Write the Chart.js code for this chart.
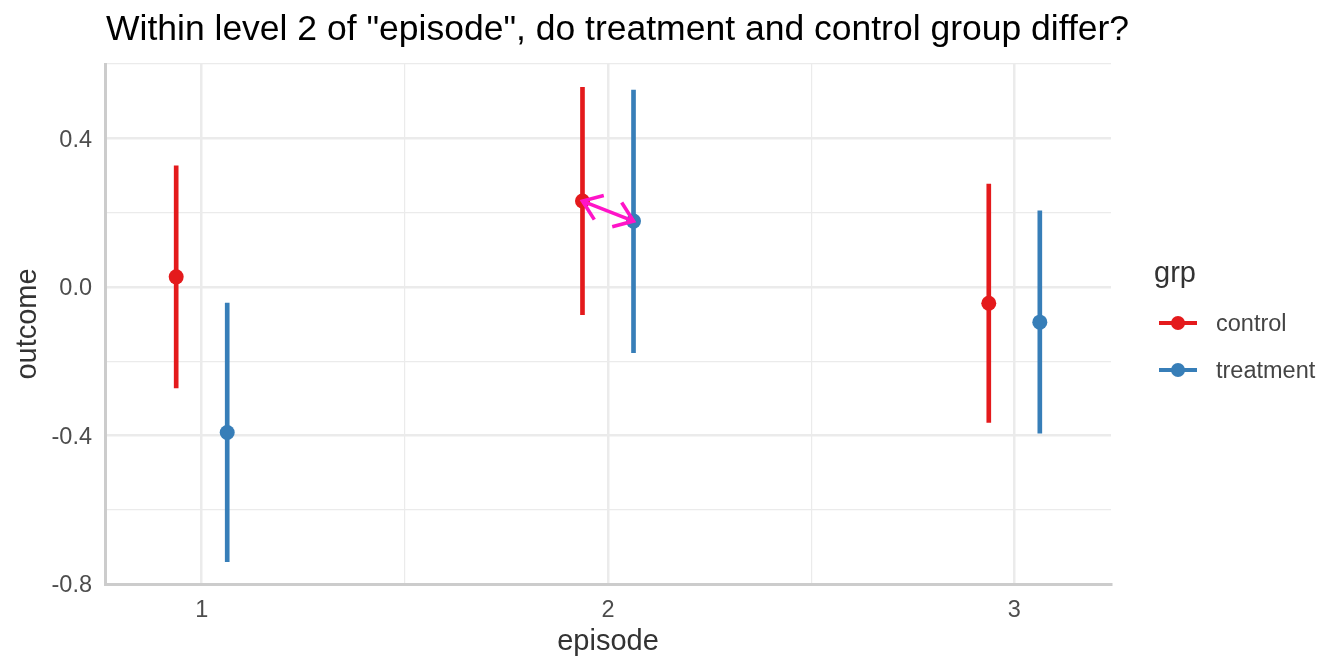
<!DOCTYPE html>
<html>
<head>
<meta charset="utf-8">
<script src="https://cdn.jsdelivr.net/npm/chart.js@4.4.1/dist/chart.umd.min.js"></script>
<style>
  html, body { margin: 0; padding: 0; background: #ffffff; }
  #wrap { position: relative; width: 1344px; height: 672px; overflow: hidden; font-family: "Liberation Sans", Arial, sans-serif; }
  #c { position: absolute; left: 0; top: 0; }
  .txt { position: absolute; white-space: nowrap; }
  #title { left: 106px; top: 11px; font-size: 35.5px; line-height: 35.5px; color: #000000; }
  #legTitle { left: 1154px; top: 258px; font-size: 29px; line-height: 29px; color: #333333; }
  .legLab { font-size: 23.5px; line-height: 23.5px; color: #444444; left: 1216px; }
  .key { position: absolute; width: 38px; height: 4px; left: 1159px; }
  .dot { position: absolute; width: 14px; height: 14px; border-radius: 50%; left: 1171px; }
</style>
</head>
<body>
<div id="wrap">
  <canvas id="c" width="1344" height="672"></canvas>
  <div id="title" class="txt"></div>
  <div id="legend"></div>
</div>
<script>
// ---- data ----
const chartTitle = 'Within level 2 of "episode", do treatment and control group differ?';
const xTitle = 'episode';
const yTitle = 'outcome';
const legendTitle = 'grp';
const episodes = [1, 2, 3];
const xTickLabels = ['1', '2', '3'];
const yTickValues = [-0.8, -0.4, 0.0, 0.4];
const groups = ['control', 'treatment'];
const controlEstimate = [0.027, 0.231, -0.044];
const controlLower = [-0.272, -0.075, -0.365];
const controlUpper = [0.326, 0.537, 0.277];
const treatmentEstimate = [-0.392, 0.177, -0.095];
const treatmentLower = [-0.740, -0.177, -0.394];
const treatmentUpper = [-0.044, 0.530, 0.205];
const arrowEpisode = 2; // comparison highlighted: control -> treatment within episode 2

// ---- styles ----
const colors = { control: '#E41A1C', treatment: '#377EB8' };
const arrowColor = '#FF14C8';
const DODGE = 0.0628;
const FONT = '"Liberation Sans", Arial, sans-serif';

document.getElementById('title').textContent = chartTitle;

// legend (HTML)
(function buildLegend() {
  const lg = document.getElementById('legend');
  const t = document.createElement('div');
  t.id = 'legTitle'; t.className = 'txt'; t.textContent = legendTitle;
  lg.appendChild(t);
  const keyY = [323, 369.5];
  groups.forEach((g, i) => {
    const line = document.createElement('div');
    line.className = 'key';
    line.style.top = (keyY[i] - 2) + 'px';
    line.style.background = colors[g];
    lg.appendChild(line);
    const dot = document.createElement('div');
    dot.className = 'dot';
    dot.style.top = (keyY[i] - 7) + 'px';
    dot.style.background = colors[g];
    lg.appendChild(dot);
    const lab = document.createElement('div');
    lab.className = 'txt legLab';
    lab.style.top = (keyY[i] + 9 - 19.9) + 'px';
    lab.textContent = g;
    lg.appendChild(lab);
  });
})();

const est = { control: controlEstimate, treatment: treatmentEstimate };
const lo = { control: controlLower, treatment: treatmentLower };
const hi = { control: controlUpper, treatment: treatmentUpper };
const offs = { control: -DODGE, treatment: DODGE };

const datasets = [];
groups.forEach(g => {
  datasets.push({
    type: 'scatter',
    label: g,
    order: 0,
    data: episodes.map((e, i) => ({ x: e + offs[g], y: est[g][i] })),
    backgroundColor: colors[g],
    borderColor: colors[g],
    pointRadius: 7.5,
    pointBorderWidth: 0,
    pointHoverRadius: 7.5
  });
});
groups.forEach(g => {
  datasets.push({
    type: 'bar',
    label: g + ' interval',
    order: 1,
    data: episodes.map((e, i) => ({ x: e + offs[g], y: [lo[g][i], hi[g][i]] })),
    backgroundColor: colors[g],
    borderWidth: 0,
    barThickness: 4,
    grouped: false
  });
});

const isMajorY = v => Math.abs(v / 0.4 - Math.round(v / 0.4)) < 1e-6;
const isMajorX = v => Math.abs(v - Math.round(v)) < 1e-6;

const arrowPlugin = {
  id: 'arrowPlugin',
  afterDatasetsDraw(chart) {
    const i = episodes.indexOf(arrowEpisode);
    const xs = chart.scales.x, ys = chart.scales.y;
    const x1 = xs.getPixelForValue(arrowEpisode + offs.control), y1 = ys.getPixelForValue(controlEstimate[i]);
    const x2 = xs.getPixelForValue(arrowEpisode + offs.treatment), y2 = ys.getPixelForValue(treatmentEstimate[i]);
    const ctx = chart.ctx;
    ctx.save();
    ctx.strokeStyle = arrowColor;
    ctx.lineWidth = 3.6;
    ctx.lineCap = 'butt';
    ctx.lineJoin = 'miter';
    ctx.beginPath();
    ctx.moveTo(x1, y1); ctx.lineTo(x2, y2);
    const head = (tx, ty, fx, fy) => {
      const a = Math.atan2(fy - ty, fx - tx);
      const L = 22, w = 36 * Math.PI / 180;
      ctx.moveTo(tx + L * Math.cos(a - w), ty + L * Math.sin(a - w));
      ctx.lineTo(tx, ty);
      ctx.lineTo(tx + L * Math.cos(a + w), ty + L * Math.sin(a + w));
    };
    head(x1, y1, x2, y2);
    head(x2, y2, x1, y1);
    ctx.stroke();
    ctx.restore();
  }
};

new Chart(document.getElementById('c'), {
  type: 'bar',
  data: { datasets },
  options: {
    responsive: false,
    devicePixelRatio: 1,
    animation: false,
    events: [],
    layout: { padding: { top: 64, right: 233, left: 0, bottom: 0 } },
    plugins: { legend: { display: false }, tooltip: { enabled: false }, title: { display: false } },
    scales: {
      x: {
        type: 'linear',
        min: 0.762, max: 3.238,
        offset: false,
        afterBuildTicks: s => { s.ticks = [1, 1.5, 2, 2.5, 3].map(v => ({ value: v })); },
        afterFit: s => { s.height = 88; },
        ticks: {
          autoSkip: false,
          maxRotation: 0,
          padding: 12,
          color: '#4D4D4D',
          font: { family: FONT, size: 23.5 },
          callback: v => { const k = episodes.indexOf(v); return k >= 0 ? xTickLabels[k] : ''; }
        },
        grid: {
          offset: false,
          drawTicks: false,
          color: '#EBEBEB',
          lineWidth: c => (c.tick && isMajorX(c.tick.value)) ? 2.5 : 1.2
        },
        border: { display: true, color: '#CCCCCC', width: 3 },
        title: { display: true, text: xTitle, color: '#333333', font: { family: FONT, size: 29, lineHeight: 1 }, padding: { top: 0, bottom: 16 } }
      },
      y: {
        type: 'linear',
        min: -0.8, max: 0.6,
        afterBuildTicks: s => { s.ticks = [-0.8, -0.6, -0.4, -0.2, 0, 0.2, 0.4, 0.6].map(v => ({ value: v })); },
        afterFit: s => { s.width = 105; },
        ticks: {
          autoSkip: false,
          padding: 13,
          labelOffset: 2,
          color: '#4D4D4D',
          font: { family: FONT, size: 23.5 },
          callback: v => yTickValues.some(t => Math.abs(t - v) < 1e-6) ? v.toFixed(1) : ''
        },
        grid: {
          offset: false,
          drawTicks: false,
          color: '#EBEBEB',
          lineWidth: c => (c.tick && isMajorY(c.tick.value)) ? 2.5 : 1.2
        },
        border: { display: true, color: '#CCCCCC', width: 3 },
        title: { display: true, text: yTitle, color: '#333333', font: { family: FONT, size: 29, lineHeight: 1 }, padding: { top: 13, bottom: 0 } }
      }
    }
  },
  plugins: [arrowPlugin]
});
</script>
</body>
</html>
